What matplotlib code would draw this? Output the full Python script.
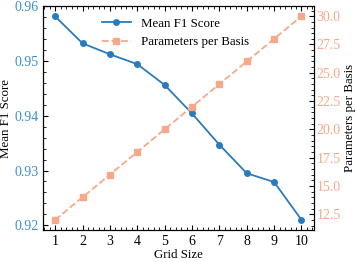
import matplotlib
matplotlib.use("Agg")
from matplotlib import pyplot as plt
from matplotlib.ticker import AutoMinorLocator

grid_size = [1, 2, 3, 4, 5, 6, 7, 8, 9, 10]
mean_f1 = [0.9581, 0.9532, 0.9512, 0.9494, 0.9456, 0.9404, 0.9347, 0.9295, 0.9279, 0.9210]
params_per_basis = [12, 14, 16, 18, 20, 22, 24, 26, 28, 30]

blue = '#2a7bbd'
blue_text = '#3a8fd4'
orange = '#f6a98a'

plt.rcParams['font.family'] = ['Liberation Serif', 'DejaVu Serif']
plt.rcParams['font.size'] = 9.3

fig, ax1 = plt.subplots(figsize=(3.57, 2.62), dpi=100)
fig.subplots_adjust(left=0.12, right=0.879, top=0.977, bottom=0.122)

l1, = ax1.plot(grid_size, mean_f1, color=blue, marker='o', markersize=4,
               linewidth=1.3, label='Mean F1 Score')
ax1.set_xlabel('Grid Size', labelpad=1)
ax1.set_ylabel('Mean F1 Score', labelpad=2)
ax1.set_xticks(grid_size)
ax1.set_yticks([0.92, 0.93, 0.94, 0.95, 0.96])
ax1.tick_params(labelsize=10)
ax1.tick_params(axis='y', labelcolor=blue_text, pad=3)
ax1.tick_params(which='both', direction='in', top=True)
ax1.xaxis.set_minor_locator(AutoMinorLocator())
ax1.yaxis.set_minor_locator(AutoMinorLocator())

ax2 = ax1.twinx()
l2, = ax2.plot(grid_size, params_per_basis, color=orange, marker='s', markersize=4,
               linewidth=1.3, linestyle='--', label='Parameters per Basis')
ax2.set_ylabel('Parameters per Basis', labelpad=2)
ax2.set_yticks([12.5, 15.0, 17.5, 20.0, 22.5, 25.0, 27.5, 30.0])
ax2.tick_params(axis='y', labelcolor=orange, pad=2, labelsize=10)
ax2.tick_params(which='both', direction='in')
ax2.yaxis.set_minor_locator(AutoMinorLocator())

ax1.legend(handles=[l1, l2], loc='upper center', bbox_to_anchor=(0.49, 1.0),
           frameon=False, handlelength=2.2)

fig.savefig('out.png', dpi=100)
